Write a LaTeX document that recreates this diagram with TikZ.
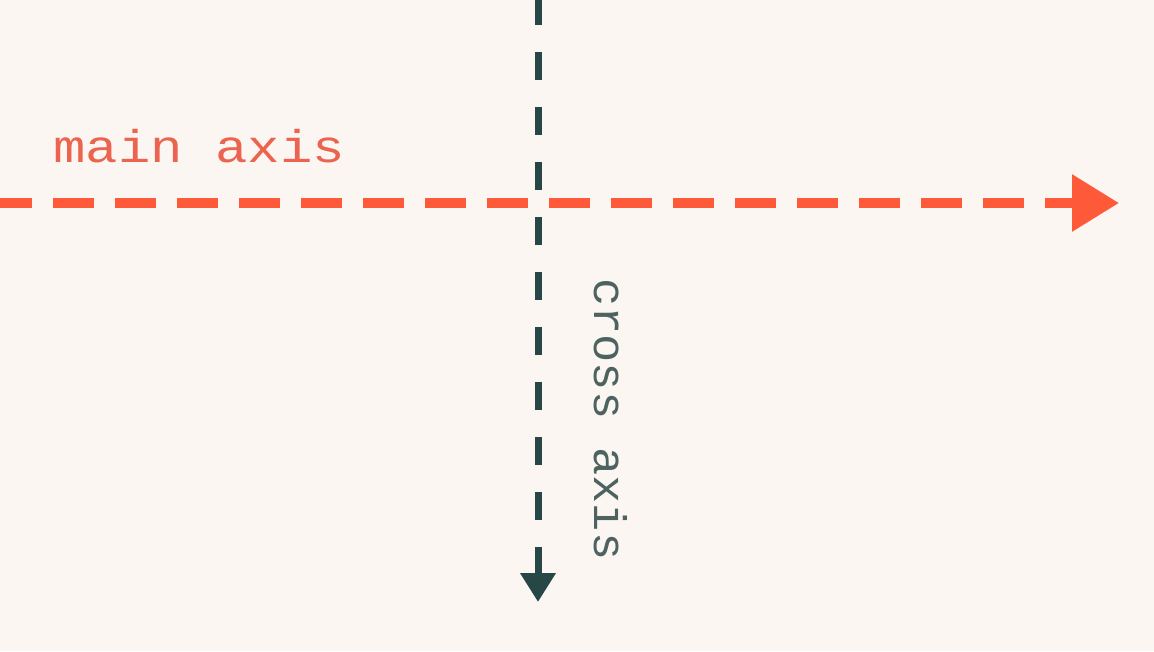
\documentclass[tikz,border=0pt]{standalone}
\usepackage{fontspec}
\setmonofont{Liberation Mono}
\usetikzlibrary{arrows.meta}
\definecolor{bgc}{HTML}{FCF6F3}
\definecolor{mainc}{HTML}{FE5A3A}
\definecolor{maintxt}{HTML}{EB644F}
\definecolor{crossc}{HTML}{264745}
\definecolor{crosstxt}{HTML}{4D6360}
\tikzset{
  mainline/.style={draw=mainc, line width=9.5pt, dash pattern=on 41pt off 21pt,
    -{Triangle[length=47pt,width=55pt]}},
  crossline/.style={draw=crossc, line width=7pt, dash pattern=on 28pt off 27pt,
    -{Triangle[length=29pt,width=34pt]}},
  axislabel/.style={inner sep=0pt, font=\ttfamily\fontsize{54}{54}\selectfont}
}
\begin{document}
\begin{tikzpicture}[x=1pt,y=-1pt]
  \fill[bgc] (0,0) rectangle (1154,651);
  \useasboundingbox (0,0) rectangle (1154,651);
  \coordinate (hstart) at (-9,203);
  \coordinate (htip) at (1119,203);
  \coordinate (vstart) at (538,-3);
  \coordinate (vtip) at (538,602);
  \draw[crossline] (vstart) -- (vtip);
  \draw[mainline] (hstart) -- (htip);
  \node[axislabel, text=maintxt, anchor=base west] (mainlabel) at (53,162) {\scalebox{1}[0.85]{main axis}};
  \node[axislabel, text=crosstxt, anchor=base west, rotate=-90, font=\ttfamily\fontsize{47}{47}\selectfont] (crosslabel) at (594,278) {\scalebox{1}[0.97]{cross axis}};
\end{tikzpicture}
\end{document}
